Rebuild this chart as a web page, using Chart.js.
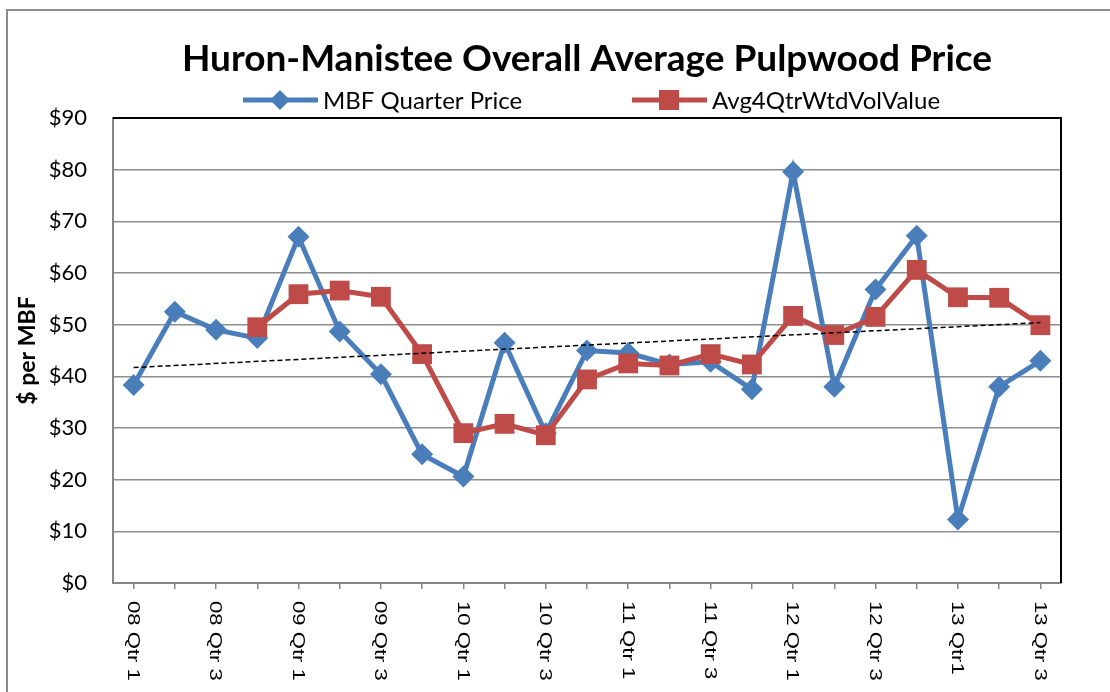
<!DOCTYPE html>
<html>
<head>
<meta charset="utf-8">
<script src="https://cdn.jsdelivr.net/npm/chart.js@4.4.1/dist/chart.umd.min.js"></script>
<style>
  html, body { margin: 0; padding: 0; background: #fff; overflow: hidden; }
  #wrap { position: relative; width: 1110px; height: 692px; }
  #frame { position: absolute; left: 6px; top: 9px; width: 1200px; height: 800px; border: 2px solid #8c8c8c; pointer-events: none; }
</style>
</head>
<body>
<div id="wrap">
  <canvas id="priceChart"></canvas>
  <div id="frame"></div>
</div>
<script>
const quarters = [
    '08 Qtr 1', '08 Qtr 2', '08 Qtr 3', '08 Qtr 4',
    '09 Qtr 1', '09 Qtr 2', '09 Qtr 3', '09 Qtr 4',
    '10 Qtr 1', '10 Qtr 2', '10 Qtr 3', '10 Qtr 4',
    '11 Qtr 1', '11 Qtr 2', '11 Qtr 3', '11 Qtr 4',
    '12 Qtr 1', '12 Qtr 2', '12 Qtr 3', '12 Qtr 4',
    '13 Qtr1', '13 Qtr 2', '13 Qtr 3'
];
// only every other quarter gets a label on the axis
const tickLabels = [
    '08 Qtr 1', '', '08 Qtr 3', '',
    '09 Qtr 1', '', '09 Qtr 3', '',
    '10 Qtr 1', '', '10 Qtr 3', '',
    '11 Qtr 1', '', '11 Qtr 3', '',
    '12 Qtr 1', '', '12 Qtr 3', '',
    '13 Qtr1', '', '13 Qtr 3'
];
const mbfQuarterPrice = [
    38.3, 52.5, 49.0, 47.4,
    67.0, 48.7, 40.4, 24.9,
    20.6, 46.5, 29.0, 45.0,
    44.5, 42.3, 42.8, 37.5,
    79.6, 38.0, 56.8, 67.2,
    12.3, 38.0, 43.0
];
const avg4QtrWtdVolValue = [
    null, null, null, 49.5,
    55.9, 56.6, 55.4, 44.3,
    29.0, 30.8, 28.6, 39.4,
    42.5, 42.1, 44.3, 42.3,
    51.7, 48.0, 51.5, 60.6,
    55.3, 55.2, 49.9
];
// linear trend of the quarter price, end points
const trendLine = [41.7, null, null, null, null, null, null, null, null, null, null, null,
    null, null, null, null, null, null, null, null, null, null, 50.4];
const yTicks = [0, 10, 20, 30, 40, 50, 60, 70, 80, 90];

const BLUE = '#4A7EBB';
const RED = '#BE4B48';

const chartExtras = {
    id: 'chartExtras',
    beforeDatasetsDraw(chart) {
        const { ctx, chartArea: a } = chart;
        ctx.save();
        ctx.strokeStyle = '#000';
        ctx.lineWidth = 2;
        ctx.beginPath();
        ctx.moveTo(a.left, a.top);
        ctx.lineTo(a.right, a.top);
        ctx.lineTo(a.right, a.bottom);
        ctx.stroke();
        ctx.restore();
    },
    afterDraw(chart) {
        const { ctx } = chart;
        const xScale = chart.scales.x;

        // rotated category labels, reading top to bottom
        ctx.save();
        ctx.fillStyle = '#000';
        ctx.font = '17px "Liberation Sans", Arial, sans-serif';
        ctx.textAlign = 'left';
        ctx.textBaseline = 'middle';
        tickLabels.forEach((lbl, i) => {
            if (!lbl) return;
            const x = xScale.getPixelForValue(i);
            ctx.save();
            ctx.translate(x - 1, xScale.bottom - xScale.height + 18);
            ctx.rotate(Math.PI / 2);
            ctx.scale(1.3, 1);
            ctx.fillText(lbl, 0, 0);
            ctx.restore();
        });
        ctx.restore();

        // legend: line with marker, then series name
        const items = [
            { x: 243, text: 'MBF Quarter Price', color: BLUE, marker: 'diamond' },
            { x: 632, text: 'Avg4QtrWtdVolValue', color: RED, marker: 'square' }
        ];
        const ly = 100;
        ctx.save();
        items.forEach(it => {
            ctx.strokeStyle = it.color;
            ctx.fillStyle = it.color;
            ctx.lineWidth = 5;
            ctx.beginPath();
            ctx.moveTo(it.x, ly);
            ctx.lineTo(it.x + 75, ly);
            ctx.stroke();
            const cx = it.x + 37;
            ctx.beginPath();
            if (it.marker === 'diamond') {
                ctx.moveTo(cx, ly - 10);
                ctx.lineTo(cx + 10, ly);
                ctx.lineTo(cx, ly + 10);
                ctx.lineTo(cx - 10, ly);
                ctx.closePath();
                ctx.fill();
            } else {
                ctx.fillRect(cx - 10, ly - 10, 20, 20);
            }
            ctx.fillStyle = '#000';
            ctx.font = '24px Lato, "Open Sans", sans-serif';
            ctx.textAlign = 'left';
            ctx.textBaseline = 'middle';
            ctx.fillText(it.text, it.x + 80, ly + 1);
        });
        ctx.restore();
    }
};

new Chart(document.getElementById('priceChart'), {
    type: 'line',
    data: {
        labels: quarters,
        datasets: [
            {
                label: 'Trend',
                data: trendLine,
                borderColor: '#000',
                borderWidth: 1.5,
                borderDash: [5, 3],
                pointRadius: 0,
                spanGaps: true,
                fill: false,
                order: 0
            },
            {
                label: 'Avg4QtrWtdVolValue',
                data: avg4QtrWtdVolValue,
                borderColor: RED,
                backgroundColor: RED,
                borderWidth: 5,
                pointStyle: 'rect',
                pointRadius: 14,
                pointBorderWidth: 0,
                tension: 0,
                fill: false,
                order: 1
            },
            {
                label: 'MBF Quarter Price',
                data: mbfQuarterPrice,
                borderColor: BLUE,
                backgroundColor: BLUE,
                borderWidth: 5,
                pointStyle: 'rectRot',
                pointRadius: 11,
                pointBorderWidth: 0,
                tension: 0,
                fill: false,
                order: 2
            }
        ]
    },
    options: {
        responsive: true,
        maintainAspectRatio: false,
        animation: false,
        layout: {
            padding: { left: 0, right: 49, top: 0, bottom: 0 }
        },
        plugins: {
            legend: { display: false },
            tooltip: { enabled: false },
            title: {
                display: true,
                fullSize: false,
                text: 'Huron-Manistee Overall Average Pulpwood Price',
                color: '#000',
                font: { family: 'Lato', size: 37, weight: 'bold', lineHeight: 1.2 },
                padding: { top: 37, bottom: 36.6 }
            }
        },
        scales: {
            x: {
                offset: true,
                afterFit: scale => { scale.height = 109; },
                grid: {
                    drawOnChartArea: false,
                    drawTicks: true,
                    tickLength: 6,
                    color: '#868686',
                    lineWidth: 1.5
                },
                border: { color: '#868686', width: 2 },
                ticks: { display: false, autoSkip: false }
            },
            y: {
                min: 0,
                max: 90,
                afterFit: scale => { scale.width = 113; },
                afterBuildTicks: scale => {
                    scale.ticks = yTicks.map(v => ({ value: v }));
                },
                title: {
                    display: true,
                    text: '$ per MBF',
                    color: '#000',
                    font: { family: 'Lato', size: 23, weight: 'bold' },
                    padding: { top: 14, bottom: 0 }
                },
                grid: {
                    color: '#8e8e8e',
                    lineWidth: 1.5,
                    drawTicks: false
                },
                border: { color: '#868686', width: 2 },
                ticks: {
                    color: '#000',
                    padding: 26,
                    font: { family: 'Lato', size: 22 },
                    callback: v => '$' + v
                }
            }
        }
    },
    plugins: [chartExtras]
});
</script>
</body>
</html>
